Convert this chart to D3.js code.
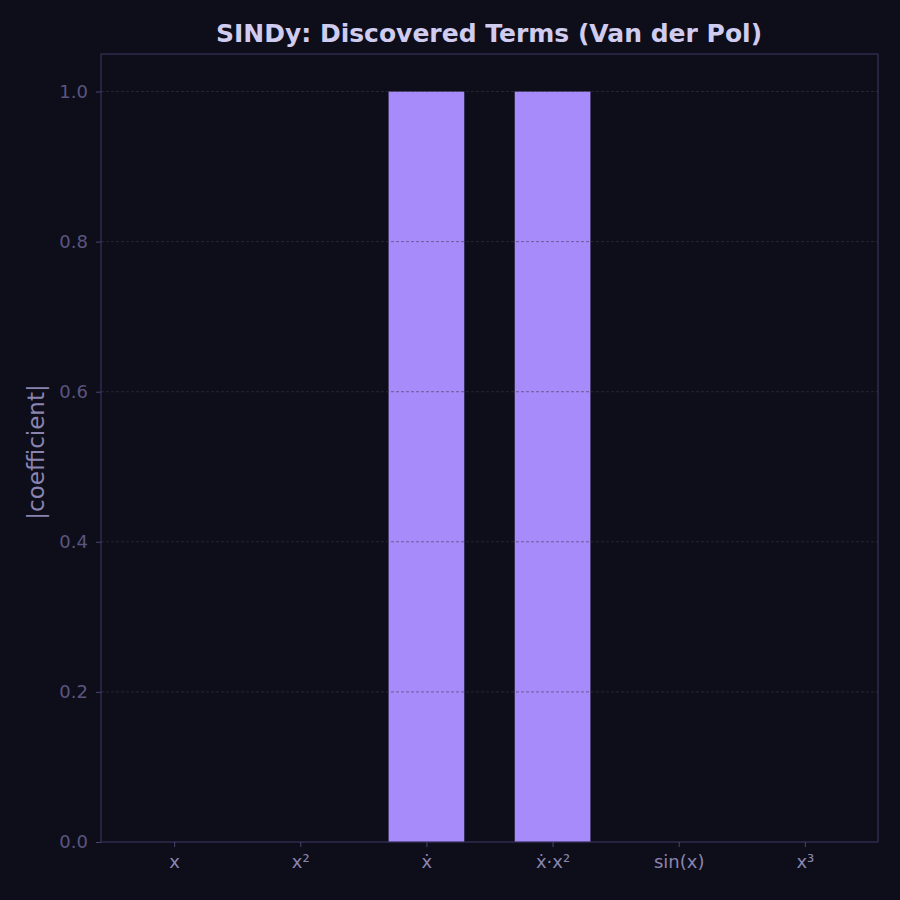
<!DOCTYPE html>
<html><head><meta charset="utf-8">
<script src="https://cdn.jsdelivr.net/npm/d3@7"></script>
<style>body{margin:0;background:#0e0e1a}</style>
</head><body><div class="canvas"></div>
<script>
const terms = ['x', 'x²', 'ẋ', 'ẋ·x²', 'sin(x)', 'x³']
const coefficients = [0, 0, 1.0, 1.0, 0, 0]
const yTicks = [0, 0.2, 0.4, 0.6, 0.8, 1.0]

const svg = d3.select('.canvas').append('svg')
  .attr('width', 900).attr('height', 900)
  .style('font-family', 'DejaVu Sans')
svg.append('rect').attr('width', 900).attr('height', 900).attr('fill', '#0e0e1a')

const margin = {top: 54, right: 22, bottom: 58, left: 101}
const w = 900 - margin.left - margin.right
const h = 900 - margin.top - margin.bottom
const graph = svg.append('g').attr('transform', `translate(${margin.left},${margin.top})`)

const x = d3.scaleLinear().domain([-0.58, terms.length - 1 + 0.58]).range([0, w])
const y = d3.scaleLinear().domain([0, 1.05]).range([h, 0])
const barW = x(0.6) - x(0)

// bars
graph.selectAll('rect.bar').data(coefficients).enter()
  .append('rect').attr('class', 'bar')
    .attr('x', (d, i) => x(i) - barW / 2)
    .attr('width', barW)
    .attr('y', d => y(d))
    .attr('height', d => h - y(d))
    .attr('fill', '#a78bfa')

// grid on top
graph.selectAll('line.grid').data(yTicks.slice(1)).enter()
  .append('line').attr('class', 'grid')
    .attr('x1', 0).attr('x2', w)
    .attr('y1', d => y(d)).attr('y2', d => y(d))
    .attr('stroke', '#3a3a48').attr('stroke-width', 0.8)
    .attr('stroke-dasharray', '3,2').attr('opacity', 0.7)

// frame
graph.append('rect').attr('width', w).attr('height', h)
  .attr('fill', 'none').attr('stroke', '#36325a').attr('stroke-width', 1.2)

const xAxis = d3.axisBottom(x).tickValues(d3.range(terms.length)).tickFormat(i => terms[i]).tickSize(5).tickPadding(8)
const yAxis = d3.axisLeft(y).tickValues(yTicks).tickFormat(d3.format('.1f')).tickSize(5).tickPadding(8)

const xg = graph.append('g').attr('transform', `translate(0,${h})`).call(xAxis)
const yg = graph.append('g').call(yAxis)
for (const g of [xg, yg]) {
  g.select('.domain').remove()
  g.selectAll('line').attr('stroke', '#4a4570')
  g.selectAll('text').attr('font-size', 18).attr('font-family', 'DejaVu Sans')
}
xg.selectAll('text').attr('fill', '#8a85b0')
yg.selectAll('text').attr('fill', '#5a557f')

svg.append('text').attr('x', 489).attr('y', 42).attr('text-anchor', 'middle')
  .attr('font-size', 25).attr('font-weight', 'bold').attr('fill', '#d0ccf0')
  .text('SINDy: Discovered Terms (Van der Pol)')

svg.append('text').attr('transform', 'translate(44,452) rotate(-90)')
  .attr('text-anchor', 'middle').attr('font-size', 23).attr('fill', '#8a85b0')
  .text('|coefficient|')
</script></body></html>
